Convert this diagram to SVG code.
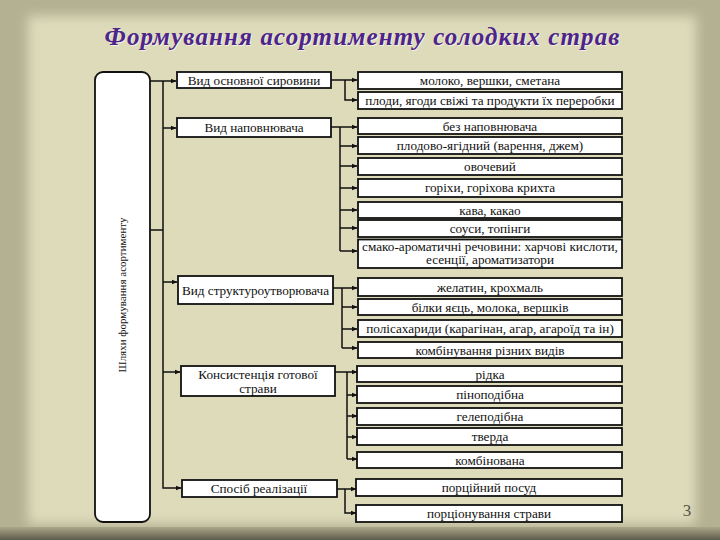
<svg xmlns="http://www.w3.org/2000/svg" width="720" height="540" viewBox="0 0 720 540">
<defs>
<style>
.bx{fill:#ffffff;stroke:#111111;stroke-width:1.8}
.t{font-family:"Liberation Serif","DejaVu Serif",serif;font-size:13.2px;fill:#111111;text-anchor:middle}
.c{fill:none;stroke:#111111;stroke-width:1.5}
</style>
<marker id="ah" viewBox="0 0 10 10" refX="9" refY="5" markerWidth="6" markerHeight="6" orient="auto" markerUnits="userSpaceOnUse">
<path d="M0,1 L10,5 L0,9 Z" fill="#111111"/>
</marker>
<filter id="bl" x="-10%" y="-10%" width="120%" height="120%"><feGaussianBlur stdDeviation="6"/></filter>
<linearGradient id="bot" x1="0" y1="0" x2="0" y2="1"><stop offset="0" stop-color="#a9a688"/><stop offset="1" stop-color="#5d5c4c"/></linearGradient>
</defs>
<g id="background">
<rect x="0" y="0" width="720" height="540" fill="#b3b192"/>
<rect x="28" y="16" width="668" height="508" fill="#dedbbb" filter="url(#bl)"/>
<rect x="0" y="527" width="720" height="13" fill="url(#bot)"/>
</g>
<g id="title">
<text x="363" y="46" font-family="Liberation Serif,DejaVu Serif,serif" font-size="25" font-weight="bold" font-style="italic" fill="#ffffff" opacity="0.6" text-anchor="middle" textLength="515">Формування асортименту солодких страв</text>
<text x="362" y="45" font-family="Liberation Serif,DejaVu Serif,serif" font-size="25" font-weight="bold" font-style="italic" fill="#4e2488" text-anchor="middle" textLength="515">Формування асортименту солодких страв</text>
</g>
<g id="connectors">
<path class="c" d="M150,81 H176" marker-end="url(#ah)"/>
<path class="c" d="M163,81 V488 H181" marker-end="url(#ah)"/>
<path class="c" d="M147,230 H163"/>
<path class="c" d="M163,128 H176" marker-end="url(#ah)"/>
<path class="c" d="M163,282 H177" marker-end="url(#ah)"/>
<path class="c" d="M163,372 H180" marker-end="url(#ah)"/>
<path class="c" d="M331,80 H357" marker-end="url(#ah)"/>
<path class="c" d="M345,80 V100 H357" marker-end="url(#ah)"/>
<path class="c" d="M331,127 H357" marker-end="url(#ah)"/>
<path class="c" d="M340,127 V251"/>
<path class="c" d="M340,146 H357" marker-end="url(#ah)"/>
<path class="c" d="M340,166 H357" marker-end="url(#ah)"/>
<path class="c" d="M340,188 H357" marker-end="url(#ah)"/>
<path class="c" d="M340,210 H357" marker-end="url(#ah)"/>
<path class="c" d="M340,228 H357" marker-end="url(#ah)"/>
<path class="c" d="M340,251 H357" marker-end="url(#ah)"/>
<path class="c" d="M332,288 H357" marker-end="url(#ah)"/>
<path class="c" d="M342,288 V348"/>
<path class="c" d="M342,307 H357" marker-end="url(#ah)"/>
<path class="c" d="M342,329 H357" marker-end="url(#ah)"/>
<path class="c" d="M342,348 H357" marker-end="url(#ah)"/>
<path class="c" d="M335,372 H357" marker-end="url(#ah)"/>
<path class="c" d="M347,372 V459"/>
<path class="c" d="M347,395 H357" marker-end="url(#ah)"/>
<path class="c" d="M347,416 H357" marker-end="url(#ah)"/>
<path class="c" d="M347,437 H357" marker-end="url(#ah)"/>
<path class="c" d="M347,459 H357" marker-end="url(#ah)"/>
<path class="c" d="M337,489 H356" marker-end="url(#ah)"/>
<path class="c" d="M345,489 V513 H356" marker-end="url(#ah)"/>
</g>
<g id="root">
<rect x="95" y="72" width="55" height="450" rx="8" class="bx"/>
<text transform="translate(126,295) rotate(-90)" font-family="Liberation Serif,DejaVu Serif,serif" font-size="11" fill="#111111" text-anchor="middle">Шляхи формування асортименту</text>
</g>
<g id="n1"><rect x="177" y="72" width="154" height="16" class="bx"/><text x="254" y="84.5" class="t">Вид основної сировини</text></g>
<g id="n2"><rect x="177" y="118" width="154" height="19" class="bx"/><text x="254" y="132" class="t">Вид наповнювача</text></g>
<g id="n3"><rect x="178" y="276" width="155" height="28" class="bx"/><text x="255.5" y="295" class="t" font-size="12.8">Вид структуроутворювача</text></g>
<g id="n4"><rect x="181" y="366" width="154" height="30" class="bx"/><text x="258" y="379" class="t">Консистенція готової</text><text x="258" y="393" class="t">страви</text></g>
<g id="n5"><rect x="182" y="480" width="155" height="17" class="bx"/><text x="259" y="493" class="t">Спосіб реалізації</text></g>
<g id="r1"><rect x="358" y="72" width="264" height="17" class="bx"/><text x="490" y="85" class="t">молоко, вершки, сметана</text></g>
<g id="r2"><rect x="358" y="92" width="264" height="17" class="bx"/><text x="490" y="105" class="t">плоди, ягоди свіжі та продукти їх переробки</text></g>
<g id="r3"><rect x="358" y="118" width="264" height="16" class="bx"/><text x="490" y="130.5" class="t">без наповнювача</text></g>
<g id="r4"><rect x="358" y="137" width="264" height="17" class="bx"/><text x="490" y="150" class="t">плодово-ягідний (варення, джем)</text></g>
<g id="r5"><rect x="358" y="158" width="264" height="17" class="bx"/><text x="490" y="171" class="t">овочевий</text></g>
<g id="r6"><rect x="358" y="179" width="264" height="18" class="bx"/><text x="490" y="192" class="t">горіхи, горіхова крихта</text></g>
<g id="r7"><rect x="358" y="202" width="264" height="16" class="bx"/><text x="490" y="214.5" class="t">кава, какао</text></g>
<g id="r8"><rect x="358" y="220" width="264" height="17" class="bx"/><text x="490" y="233" class="t">соуси, топінги</text></g>
<g id="r9"><rect x="358" y="239.5" width="264" height="28.5" class="bx"/><text x="490" y="250.5" class="t" font-size="11.5">смако-ароматичні речовини: харчові кислоти,</text><text x="490" y="264" class="t" font-size="11.5">есенції, ароматизатори</text></g>
<g id="r10"><rect x="358" y="278" width="264" height="18" class="bx"/><text x="490" y="291.5" class="t">желатин, крохмаль</text></g>
<g id="r11"><rect x="358" y="299" width="264" height="16" class="bx"/><text x="490" y="311.5" class="t">білки яєць, молока, вершків</text></g>
<g id="r12"><rect x="358" y="320" width="264" height="17" class="bx"/><text x="490" y="333" class="t">полісахариди (карагінан, агар, агароїд та ін)</text></g>
<g id="r13"><rect x="358" y="342" width="264" height="16" class="bx"/><text x="490" y="354.5" class="t">комбінування різних видів</text></g>
<g id="r14"><rect x="357" y="366" width="265" height="16" class="bx"/><text x="490" y="378.5" class="t">рідка</text></g>
<g id="r15"><rect x="357" y="386" width="265" height="17" class="bx"/><text x="490" y="399" class="t">піноподібна</text></g>
<g id="r16"><rect x="357" y="408" width="265" height="17" class="bx"/><text x="490" y="421" class="t">гелеподібна</text></g>
<g id="r17"><rect x="357" y="428" width="265" height="17" class="bx"/><text x="490" y="441" class="t">тверда</text></g>
<g id="r18"><rect x="357" y="452" width="265" height="16" class="bx"/><text x="490" y="464.5" class="t">комбінована</text></g>
<g id="r19"><rect x="356" y="479" width="266" height="17" class="bx"/><text x="489" y="492" class="t">порційний посуд</text></g>
<g id="r20"><rect x="356" y="505" width="266" height="17" class="bx"/><text x="489" y="518" class="t">порціонування  страви</text></g>
<text x="687" y="516" font-family="Liberation Serif,DejaVu Serif,serif" font-size="17" fill="#555548" text-anchor="middle">3</text>
</svg>
